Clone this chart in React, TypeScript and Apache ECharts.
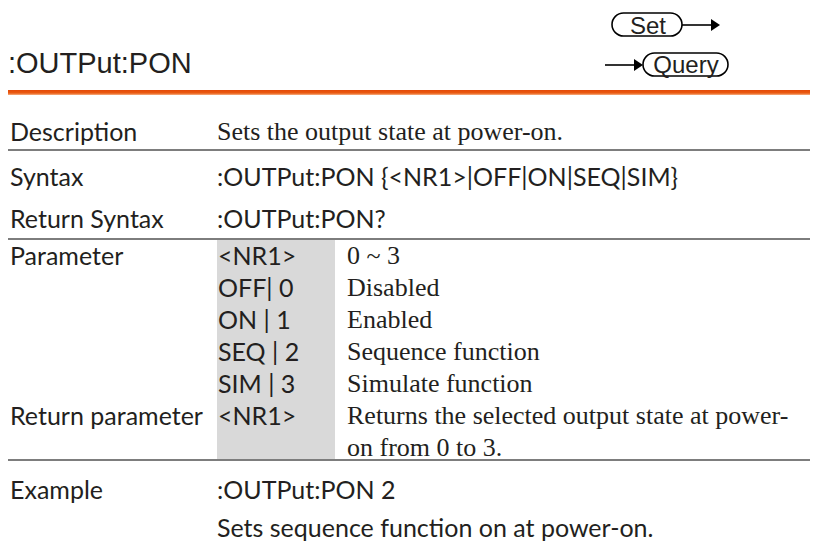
import React, { useEffect, useRef } from "react";
import * as echarts from "echarts";

const TITLE = ":OUTPut:PON";
const SET_LABEL = "Set";
const QUERY_LABEL = "Query";
const ROW_LABELS = ["Description", "Syntax", "Return Syntax"];
const ROW_TEXTS = [
  "Sets the output state at power-on.",
  ":OUTPut:PON {<NR1>|OFF|ON|SEQ|SIM}",
  ":OUTPut:PON?",
];
const PARAM_LABEL = "Parameter";
const RETURN_PARAM_LABEL = "Return parameter";
const PARAM_CODES = ["<NR1>", "OFF| 0", "ON | 1", "SEQ | 2", "SIM | 3", "<NR1>"];
const PARAM_DESCS = [
  "0 ~ 3",
  "Disabled",
  "Enabled",
  "Sequence function",
  "Simulate function",
  "Returns the selected output state at power-",
];
const PARAM_DESC_CONT = "on from 0 to 3.";
const EXAMPLE_LABEL = "Example";
const EXAMPLE_CODE = ":OUTPut:PON 2";
const EXAMPLE_TEXT = "Sets sequence function on at power-on.";

const INK = "#231f20";
const SANS = "Lato";
const SERIF = "Liberation Serif";
const HEAD = "Liberation Sans";

function txt(text: string, x: number, y: number, size: number, family: string, extra: any = {}) {
  return {
    type: "text",
    x,
    y,
    silent: true,
    style: {
      text,
      fill: INK,
      fontSize: size,
      fontFamily: family,
      align: "left",
      verticalAlign: "middle",
      textAlign: "left",
      textVerticalAlign: "middle",
      ...extra,
    },
  };
}

export default function App() {
  const ref = useRef<HTMLDivElement>(null);
  useEffect(() => {
    if (!ref.current) return;
    const chart = echarts.init(ref.current, null, { renderer: "svg" });
    const els: any[] = [];

    // Title
    els.push(txt(TITLE, 8, 63, 29, HEAD));

    // Set pill + arrow
    els.push({ type: "rect", shape: { x: 612, y: 13, width: 70, height: 23, r: 11.5 }, style: { fill: "#fff", stroke: "#000", lineWidth: 1.6 } });
    els.push(txt(SET_LABEL, 648, 25, 24, HEAD, { align: "center", textAlign: "center" }));
    els.push({ type: "line", shape: { x1: 682, y1: 25, x2: 713, y2: 25 }, style: { stroke: "#000", lineWidth: 1.6 } });
    els.push({ type: "polygon", shape: { points: [[711, 19], [720, 25], [711, 31]] }, style: { fill: "#000" } });

    // Query pill + arrow
    els.push({ type: "rect", shape: { x: 643, y: 53, width: 85, height: 23, r: 11.5 }, style: { fill: "#fff", stroke: "#000", lineWidth: 1.6 } });
    els.push(txt(QUERY_LABEL, 686, 64, 24, HEAD, { align: "center", textAlign: "center" }));
    els.push({ type: "line", shape: { x1: 605, y1: 65, x2: 636, y2: 65 }, style: { stroke: "#000", lineWidth: 1.6 } });
    els.push({ type: "polygon", shape: { points: [[634, 59], [643, 65], [634, 71]] }, style: { fill: "#000" } });

    // Orange rule
    els.push({
      type: "rect",
      shape: { x: 8, y: 90, width: 802, height: 5 },
      style: {
        fill: {
          type: "linear", x: 0, y: 0, x2: 0, y2: 1,
          colorStops: [
            { offset: 0, color: "#e44a08" },
            { offset: 0.6, color: "#ea5a12" },
            { offset: 1, color: "#f6b084" },
          ],
        },
      },
    });

    // Gray parameter column
    els.push({ type: "rect", shape: { x: 217, y: 240, width: 118, height: 219 }, style: { fill: "#d9d9d9" } });

    // Separator lines
    [150, 239, 460].forEach((y) => {
      els.push({ type: "rect", shape: { x: 8, y: y - 1, width: 802, height: 2 }, style: { fill: "#7d7d7d" } });
    });

    // Top rows
    const rowY = [131, 176, 218];
    ROW_LABELS.forEach((l, i) => {
      els.push(txt(l, 10, rowY[i], 25, SANS));
      els.push(txt(ROW_TEXTS[i], 217, rowY[i], i === 0 ? 26 : 25, i === 0 ? SERIF : SANS));
    });

    // Parameter rows
    const py0 = 255;
    const step = 32;
    els.push(txt(PARAM_LABEL, 10, py0, 25, SANS));
    els.push(txt(RETURN_PARAM_LABEL, 10, py0 + step * 5, 25, SANS));
    PARAM_CODES.forEach((c, i) => {
      els.push(txt(c, 218, py0 + step * i, 25, SANS));
      els.push(txt(PARAM_DESCS[i], 347, py0 + step * i, 26, SERIF));
    });
    els.push(txt(PARAM_DESC_CONT, 347, py0 + step * 6, 26, SERIF));

    // Example
    els.push(txt(EXAMPLE_LABEL, 10, 489, 25, SANS));
    els.push(txt(EXAMPLE_CODE, 217, 489, 25, SANS));
    els.push(txt(EXAMPLE_TEXT, 217, 527, 25, SANS));

    chart.setOption({ animation: false, backgroundColor: "#fff", graphic: { elements: els } });
    return () => chart.dispose();
  }, []);
  return (
    <div
      ref={ref}
      style={{ position: "absolute", left: 0, top: 0, width: 823, height: 544, background: "#fff" }}
    />
  );
}
